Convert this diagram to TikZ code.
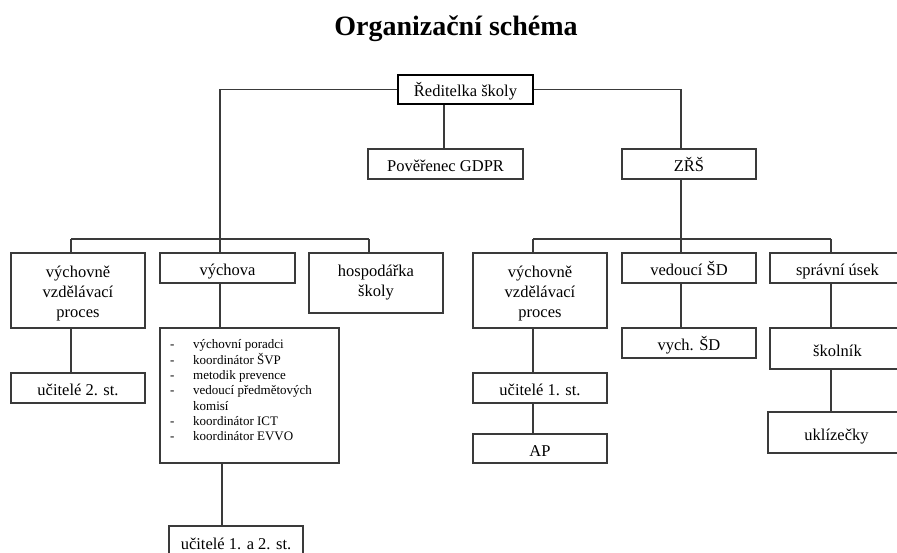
\documentclass[tikz,border=0pt]{standalone}
\usepackage{fontspec}
\setmainfont{Liberation Serif}
\definecolor{linec}{HTML}{3A3A3A}
\begin{document}
\begin{tikzpicture}[x=1pt,y=-1pt,
  box/.style={draw=linec, line width=1.2pt, inner sep=0pt, align=center,
    font=\fontsize{16.5}{20}\selectfont},
  one/.style={text height=15pt, text depth=0pt},
  conn/.style={draw=linec, line width=1.2pt}]
\clip (0,0) rectangle (897,553);
\fill[white] (0,0) rectangle (897,553);
\node[font=\fontsize{28}{32}\selectfont\bfseries] (title) at (456,29) {Organizační schéma};
% nodes
\node[box, one, draw=black, line width=2pt, minimum width=135, minimum height=29] (dir) at (465.5,89.5) {Ředitelka školy};
\node[box, one, minimum width=155, minimum height=30] (gdpr) at (445.5,164) {Pověřenec GDPR};
\node[box, one, minimum width=134, minimum height=30] (zrs) at (689,164) {ZŘŠ};
\node[box, minimum width=134, minimum height=75] (vvp1) at (78,290.5)
  {\begin{tabular}{@{}c@{}}\rule{0pt}{20pt}výchovně\\vzdělávací\\proces\end{tabular}};
\node[box, one, minimum width=135, minimum height=30] (vych) at (227.5,268) {výchova};
\node[box, minimum width=134, minimum height=60] (hosp) at (376,283) {hospodářka\\školy};
\node[box, one, minimum width=134, minimum height=30] (uc2) at (78,388) {učitelé 2. st.};
\node[box, minimum width=179, minimum height=135] (list) at (249.5,395.5) {};
\node[anchor=north west, inner sep=0pt, align=left, font=\fontsize{13}{15.3}\selectfont] (listtext) at (170,337.5)
 {\begin{tabular}{@{}p{23pt}@{}l@{}}
 - & výchovní poradci\\
 - & koordinátor ŠVP\\
 - & metodik prevence\\
 - & vedoucí předmětových\\
   & komisí\\
 - & koordinátor ICT\\
 - & koordinátor EVVO
 \end{tabular}};
\node[box, one, minimum width=134, minimum height=32] (uc12) at (236,542) {učitelé 1. a 2. st.};
\node[box, minimum width=134, minimum height=75] (vvp2) at (540,290.5)
  {\begin{tabular}{@{}c@{}}\rule{0pt}{20pt}výchovně\\vzdělávací\\proces\end{tabular}};
\node[box, one, minimum width=134, minimum height=30] (uc1) at (540,388) {učitelé 1. st.};
\node[box, one, minimum width=134, minimum height=29] (ap) at (540,448.5) {AP};
\node[box, one, minimum width=134, minimum height=30] (vsd) at (689,268) {vedoucí ŠD};
\node[box, one, minimum width=134, minimum height=30] (vychsd) at (689,343) {vych. ŠD};
\node[box, one, minimum width=135, minimum height=30] (spr) at (837.5,268) {správní úsek};
\node[box, one, minimum width=135, minimum height=41] (skol) at (837.5,348.5) {školník};
\node[box, one, minimum width=137, minimum height=41] (ukl) at (836.5,432.5) {uklízečky};
% bus coordinates
\coordinate (bL1) at (71,239);
\coordinate (bLm) at (220,239);
\coordinate (bL3) at (369,239);
\coordinate (gx) at (444,0);
\coordinate (bR1) at (533,239);
\coordinate (bRm) at (681,239);
\coordinate (bR3) at (831,239);
% connectors left
\draw[conn] (dir.west) -| (bLm);
\draw[conn] (bL1) -- (bL3);
\draw[conn] (bL1) -- (bL1 |- vvp1.north);
\draw[conn] (bLm) -- (bLm |- vych.north);
\draw[conn] (bL3) -- (bL3 |- hosp.north);
\draw[conn] (bL1 |- vvp1.south) -- (bL1 |- uc2.north);
\draw[conn] (bLm |- vych.south) -- (bLm |- list.north);
\draw[conn] ([xshift=2pt]bLm |- list.south) -- ([xshift=2pt]bLm |- uc12.north);
% middle
\draw[conn] (gx |- dir.south) -- (gx |- gdpr.north);
% right
\draw[conn] (dir.east) -| (bRm |- zrs.north);
\draw[conn] (bRm |- zrs.south) -- (bRm);
\draw[conn] (bR1) -- (bR3);
\draw[conn] (bR1) -- (bR1 |- vvp2.north);
\draw[conn] (bRm) -- (bRm |- vsd.north);
\draw[conn] (bR3) -- (bR3 |- spr.north);
\draw[conn] (bR1 |- vvp2.south) -- (bR1 |- uc1.north);
\draw[conn] (bR1 |- uc1.south) -- (bR1 |- ap.north);
\draw[conn] (bRm |- vsd.south) -- (bRm |- vychsd.north);
\draw[conn] (bR3 |- spr.south) -- (bR3 |- skol.north);
\draw[conn] (bR3 |- skol.south) -- (bR3 |- ukl.north);
\end{tikzpicture}
\end{document}
